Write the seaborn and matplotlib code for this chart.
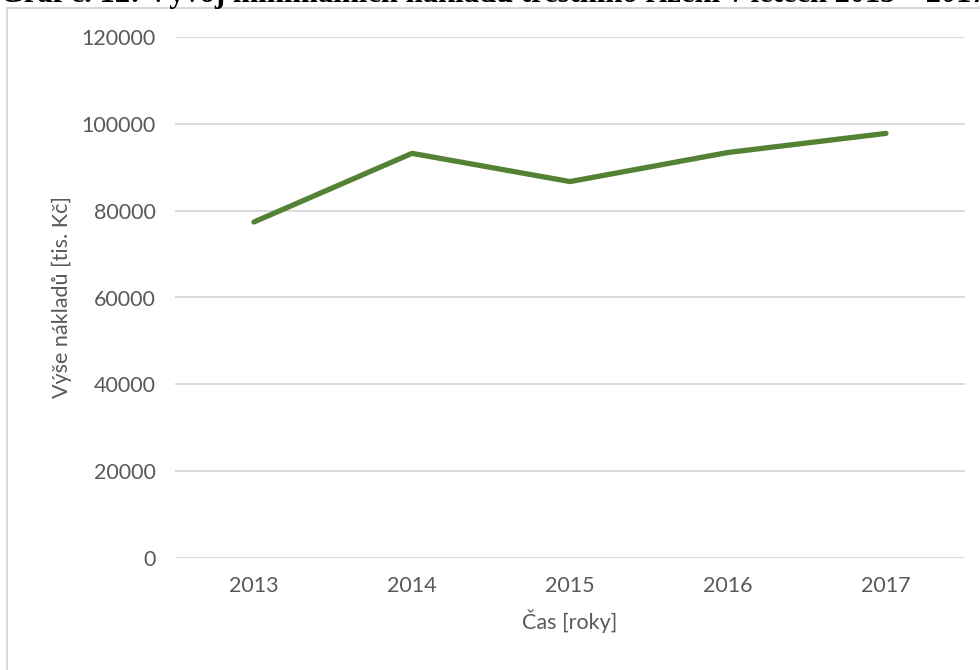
import matplotlib
matplotlib.use("Agg")
import matplotlib.pyplot as plt
import seaborn as sns
import pandas as pd
from matplotlib.patches import Rectangle

# data
roky = ["2013", "2014", "2015", "2016", "2017"]
naklady = [77400, 93200, 86700, 93400, 97800]

df = pd.DataFrame({"rok": roky, "naklady": naklady})

sns.set_style("white")
plt.rcParams["font.family"] = ["Lato", "DejaVu Sans"]

fig = plt.figure(figsize=(9.8, 6.7), dpi=100)
ax = fig.add_axes([175 / 980, 1 - 558 / 670, 790 / 980, 521 / 670])

sns.lineplot(data=df, x="rok", y="naklady", color="#548235", linewidth=3.8,
             solid_capstyle="round", solid_joinstyle="round", ax=ax)

ax.set_xlim(-0.5, 4.5)
ax.set_ylim(0, 120000)
ax.set_yticks(range(0, 120001, 20000))
ax.yaxis.grid(True, color="#d9d9d9", linewidth=1.4)
ax.xaxis.grid(False)
ax.set_axisbelow(True)
for s in ax.spines.values():
    s.set_visible(False)
ax.tick_params(axis="both", length=0, labelsize=15.5, labelcolor="#595959")
ax.tick_params(axis="y", pad=14)
ax.tick_params(axis="x", pad=13)

ax.set_xlabel("Čas [roky]", fontsize=15.5, color="#595959", labelpad=10)
ax.set_ylabel("Výše nákladů [tis. Kč]", fontsize=15.5, color="#595959", labelpad=7)

# chart frame (extends beyond the cropped picture)
fig.patches.append(Rectangle((7 / 980, -0.1), 1.2, 1 - 8 / 670 + 0.1,
                             transform=fig.transFigure, fill=False,
                             edgecolor="#d9d9d9", linewidth=1.5))

# caption cut off at the top edge
fig.text(0.0, 1 - 2 / 670,
         "Graf č. 12: Vývoj minimálních nákladů trestního řízení v letech 2013 – 2017",
         family=["Liberation Serif", "DejaVu Serif"], weight="bold", fontsize=22,
         ha="left", va="baseline", color="black")

fig.savefig("out.png", dpi=100)
